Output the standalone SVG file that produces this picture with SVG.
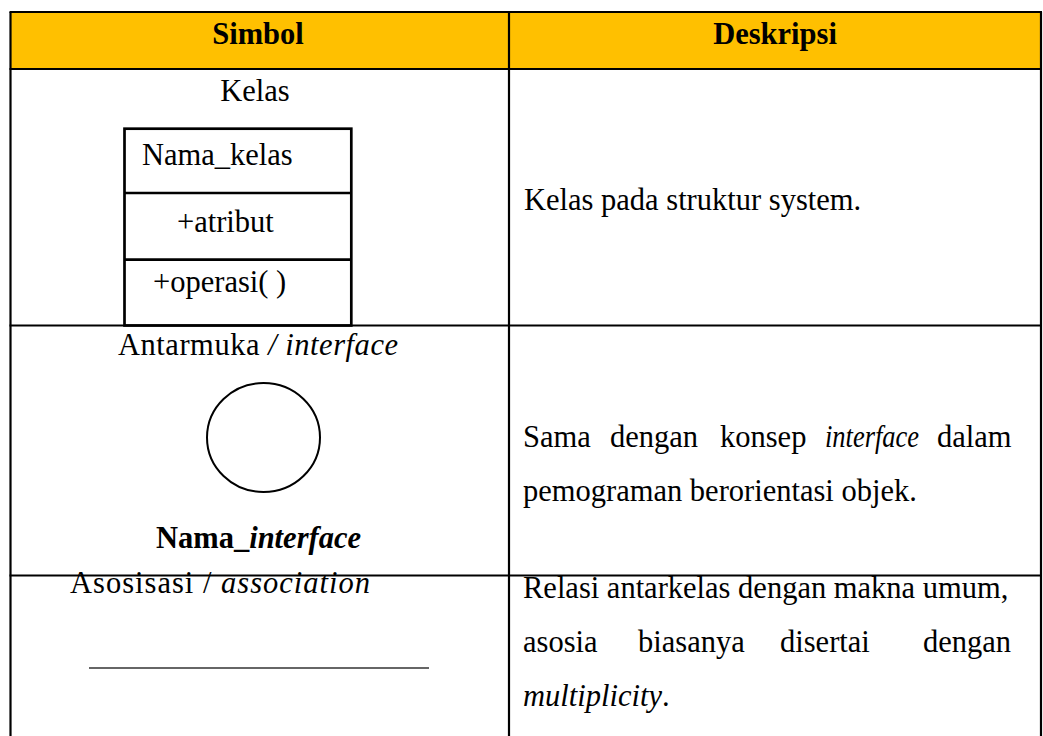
<svg xmlns="http://www.w3.org/2000/svg" width="1043" height="736" viewBox="0 0 1043 736">
  <style>
    text { font-family: "Liberation Serif", "Times New Roman", serif; font-size: 30.5px; fill: #000; }
    .b { font-weight: bold; }
    .i { font-style: italic; }
    .mid { text-anchor: middle; }
    .grid { stroke: #000; stroke-width: 2.2; fill: none; }
    .box { stroke: #000; stroke-width: 2.7; fill: none; }
  </style>

  <rect width="1043" height="736" fill="#fff"/>

  <!-- header band -->
  <g id="header">
    <rect x="10" y="12" width="1031" height="57" fill="#FFC000"/>
    <text class="b mid" x="258" y="44">Simbol</text>
    <text class="b mid" x="775" y="44">Deskripsi</text>
  </g>

  <!-- table grid -->
  <g id="grid" class="grid">
    <line x1="10.5" y1="12" x2="10.5" y2="736"/>
    <line x1="1041" y1="12" x2="1041" y2="736"/>
    <line x1="509" y1="12" x2="509" y2="736"/>
    <line x1="9.5" y1="12" x2="1042" y2="12"/>
    <line x1="9.5" y1="69" x2="1042" y2="69"/>
    <line x1="9.5" y1="325.5" x2="1042" y2="325.5"/>
    <line x1="9.5" y1="575.5" x2="1042" y2="575.5"/>
  </g>

  <!-- row 1: class -->
  <g id="row-kelas">
    <text class="mid" x="255" y="101">Kelas</text>
    <g id="class-box" class="box">
      <rect x="124.5" y="128.7" width="226.8" height="196.8"/>
      <line x1="124.5" y1="193" x2="351.3" y2="193"/>
      <line x1="124.5" y1="259.7" x2="351.3" y2="259.7"/>
    </g>
    <text x="142" y="165">Nama_kelas</text>
    <text x="177" y="232">+atribut</text>
    <text x="153" y="292">+operasi( )</text>
    <text x="524" y="210">Kelas pada struktur system.</text>
  </g>

  <!-- row 2: interface -->
  <g id="row-interface">
    <text x="118" y="355" textLength="280">Antarmuka <tspan class="i">/ interface</tspan></text>
    <ellipse cx="263.5" cy="437.5" rx="56.5" ry="54.5" fill="none" stroke="#000" stroke-width="2"/>
    <text class="b mid" x="258.5" y="548">Nama_<tspan class="i">interface</tspan></text>
    <text y="447"><tspan x="523">Sama</tspan><tspan x="610">dengan</tspan><tspan x="720">konsep</tspan><tspan x="937">dalam</tspan></text>
    <text class="i" x="825" y="447" textLength="94" lengthAdjust="spacingAndGlyphs">interface</text>
    <text x="523" y="501">pemograman berorientasi objek.</text>
  </g>

  <!-- row 3: association -->
  <g id="row-association">
    <text x="70" y="593" textLength="300" lengthAdjust="spacing">Asosisasi / <tspan class="i">association</tspan></text>
    <line x1="89" y1="668" x2="429" y2="668" stroke="#333" stroke-width="1.5"/>
    <text x="523" y="598">Relasi antarkelas dengan makna umum,</text>
    <text y="652"><tspan x="523">asosia</tspan><tspan x="638">biasanya</tspan><tspan x="780">disertai</tspan><tspan x="923">dengan</tspan></text>
    <text x="523" y="706"><tspan class="i">multiplicity</tspan>.</text>
  </g>
</svg>
